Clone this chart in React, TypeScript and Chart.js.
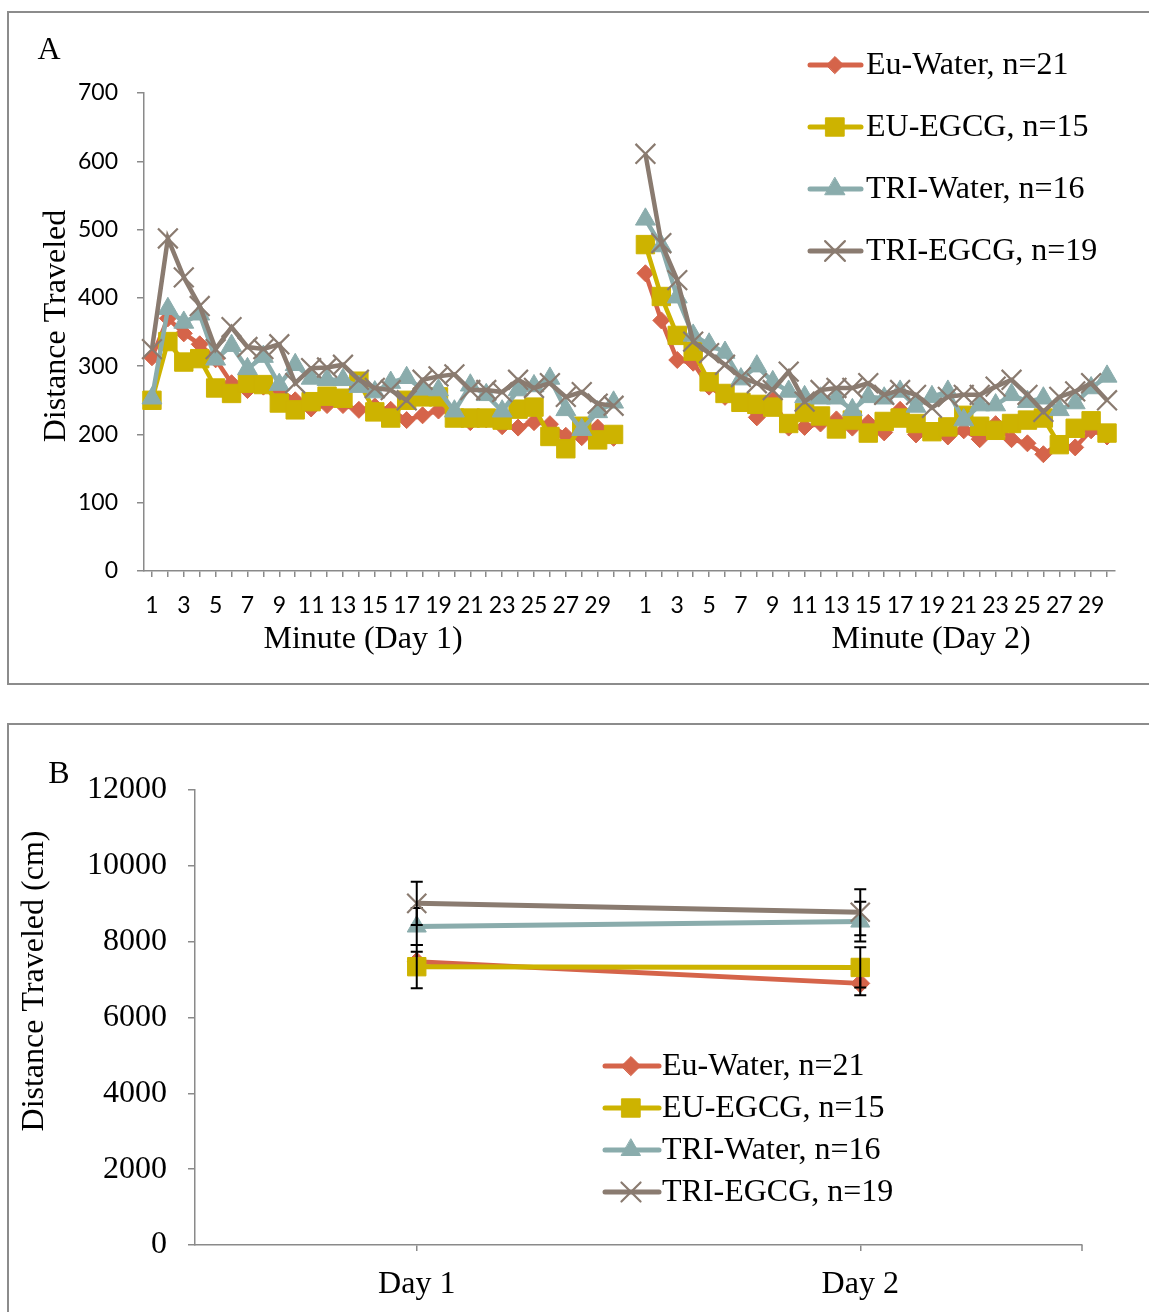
import React, { useEffect, useRef } from 'react';
import { Chart, registerables } from 'chart.js';

Chart.register(...registerables);

// ---- Panel A: distance per minute over two 30-minute sessions ----
const minutes = ['1', '2', '3', '4', '5', '6', '7', '8', '9', '10', '11', '12', '13', '14', '15',
  '16', '17', '18', '19', '20', '21', '22', '23', '24', '25', '26', '27', '28', '29', '30'];
// a blank category separates Day 1 from Day 2
const minuteAxisLabels = [...minutes, '', ...minutes];
const dayTitles = ['Minute (Day 1)', 'Minute (Day 2)'];

const euWaterDay1 = [313, 370, 348, 332, 310, 275, 265, 270, 265, 250, 238, 243, 243, 236, 241, 236, 221, 228, 235, 232, 218, 222, 212, 210, 218, 215, 198, 196, 210, 195];
const euWaterDay2 = [436, 367, 309, 305, 270, 255, 246, 225, 250, 210, 211, 216, 222, 210, 217, 203, 236, 200, 205, 197, 206, 193, 215, 193, 187, 171, 186, 181, 206, 197];
const euEgcgDay1 = [250, 336, 306, 311, 268, 260, 275, 273, 246, 236, 248, 256, 253, 278, 233, 224, 250, 255, 255, 224, 224, 224, 221, 237, 240, 197, 179, 212, 192, 200];
const euEgcgDay2 = [478, 402, 345, 322, 277, 260, 247, 244, 240, 216, 232, 227, 208, 221, 202, 219, 224, 216, 204, 211, 228, 212, 206, 216, 221, 224, 185, 209, 220, 202];
const triWaterDay1 = [253, 384, 364, 376, 310, 330, 296, 314, 273, 302, 282, 280, 280, 270, 262, 276, 283, 266, 265, 234, 272, 258, 234, 265, 271, 282, 236, 207, 233, 247];
const triWaterDay2 = [515, 476, 401, 345, 332, 320, 281, 300, 277, 263, 255, 253, 253, 236, 255, 253, 263, 241, 255, 263, 221, 243, 243, 258, 248, 253, 236, 246, 268, 285];
const triEgcgDay1 = [325, 487, 430, 388, 325, 357, 328, 325, 332, 275, 297, 298, 302, 280, 268, 265, 250, 280, 285, 288, 265, 265, 262, 280, 268, 275, 255, 262, 245, 242];
const triEgcgDay2 = [611, 480, 426, 336, 319, 302, 284, 275, 265, 292, 248, 265, 268, 268, 275, 258, 265, 258, 239, 255, 258, 258, 270, 280, 258, 233, 255, 263, 275, 250];

// ---- Panel B: total distance per day (mean and SEM) ----
const days = ['Day 1', 'Day 2'];
const euWaterTotal = [7470, 6900];
const euWaterSem = [265, 310];
const euEgcgTotal = [7340, 7320];
const euEgcgSem = [570, 530];
const triWaterTotal = [8400, 8530];
const triWaterSem = [485, 525];
const triEgcgTotal = [9010, 8775];
const triEgcgSem = [570, 605];

const seriesNames = ['Eu-Water, n=21', 'EU-EGCG, n=15', 'TRI-Water, n=16', 'TRI-EGCG, n=19'];
const yTicksA = { min: 0, max: 700, step: 100 };
const yTicksB = { min: 0, max: 12000, step: 2000 };

const SERIF = '"Liberation Serif", "Times New Roman", serif';
const SANS = 'Lato, "Open Sans", sans-serif';
const AXIS = '#8a8a8a';
const TEXT_SIZE = 32;

type Look = { color: string; style: string; rA: number; rB: number; bw: number };
const looks: Look[] = [
  { color: '#D5644A', style: 'rectRot', rA: 8.5, rB: 9.5, bw: 1 },
  { color: '#CDB300', style: 'rect', rA: 13, rB: 13, bw: 1 },
  { color: '#8AACAC', style: 'triangle', rA: 11.5, rB: 11, bw: 1 },
  { color: '#8A7B70', style: 'crossRot', rA: 14, rB: 13.5, bw: 2.2 },
];

function drawMarker(ctx: CanvasRenderingContext2D, style: string, x: number, y: number, r: number, color: string, bw: number) {
  ctx.save();
  ctx.fillStyle = color;
  ctx.strokeStyle = color;
  ctx.lineWidth = bw;
  ctx.beginPath();
  if (style === 'rectRot') {
    ctx.moveTo(x - r, y); ctx.lineTo(x, y - r); ctx.lineTo(x + r, y); ctx.lineTo(x, y + r); ctx.closePath();
    ctx.fill(); ctx.stroke();
  } else if (style === 'rect') {
    const s = r * Math.SQRT1_2;
    ctx.rect(x - s, y - s, 2 * s, 2 * s);
    ctx.fill(); ctx.stroke();
  } else if (style === 'triangle') {
    ctx.moveTo(x, y - r); ctx.lineTo(x + 0.866 * r, y + 0.5 * r); ctx.lineTo(x - 0.866 * r, y + 0.5 * r); ctx.closePath();
    ctx.fill(); ctx.stroke();
  } else {
    const d = r * Math.SQRT1_2;
    ctx.moveTo(x - d, y - d); ctx.lineTo(x + d, y + d);
    ctx.moveTo(x + d, y - d); ctx.lineTo(x - d, y + d);
    ctx.stroke();
  }
  ctx.restore();
}

function drawLegend(ctx: CanvasRenderingContext2D, x0: number, x1: number, xm: number, xt: number, ys: number[], panel: 'A' | 'B', lw: number) {
  ctx.save();
  ctx.font = `${TEXT_SIZE}px ${SERIF}`;
  ctx.textBaseline = 'middle';
  ctx.textAlign = 'left';
  seriesNames.forEach((name, i) => {
    const lk = looks[i];
    const y = ys[i];
    ctx.strokeStyle = lk.color;
    ctx.lineWidth = lw;
    ctx.lineCap = 'round';
    ctx.beginPath(); ctx.moveTo(x0, y); ctx.lineTo(x1, y); ctx.stroke();
    drawMarker(ctx, lk.style, xm, y, panel === 'A' ? lk.rA : lk.rB, lk.color, lk.bw);
    ctx.fillStyle = '#000';
    ctx.fillText(name, xt, y + 1);
  });
  ctx.restore();
}

function drawText(ctx: CanvasRenderingContext2D, text: string, x: number, y: number, rotate = false) {
  ctx.save();
  ctx.font = `${TEXT_SIZE}px ${SERIF}`;
  ctx.fillStyle = '#000';
  ctx.textAlign = 'center';
  ctx.textBaseline = 'middle';
  ctx.translate(x, y);
  if (rotate) ctx.rotate(-Math.PI / 2);
  ctx.fillText(text, 0, 0);
  ctx.restore();
}

function lineDataset(i: number, data: (number | null)[], panel: 'A' | 'B') {
  const lk = looks[i];
  const r = panel === 'A' ? lk.rA : lk.rB;
  return {
    label: seriesNames[i],
    data,
    borderColor: lk.color,
    backgroundColor: lk.color,
    borderWidth: panel === 'A' ? 4.5 : 5,
    pointStyle: lk.style,
    pointRadius: r,
    pointHoverRadius: r,
    pointBorderWidth: lk.bw,
    pointBackgroundColor: lk.color,
    pointBorderColor: lk.color,
    spanGaps: false,
    tension: 0,
    order: 4 - i,
  };
}

const borderStyle = { display: true, color: AXIS, width: 1.5 };

function PanelA() {
  const ref = useRef<HTMLCanvasElement>(null);
  useEffect(() => {
    const join = (a: number[], b: number[]) => [...a, null, ...b];
    const overlay = {
      id: 'panelAText',
      afterDraw(chart: any) {
        const ctx = chart.ctx as CanvasRenderingContext2D;
        drawText(ctx, 'A', 49, 51);
        drawText(ctx, 'Distance Traveled', 57, 326, true);
        drawText(ctx, dayTitles[0], 363, 640);
        drawText(ctx, dayTitles[1], 931, 640);
        drawLegend(ctx, 810, 861, 835, 866, [65, 127, 189, 251], 'A', 5);
      },
    };
    const chart = new Chart(ref.current!, {
      type: 'line',
      data: {
        labels: minuteAxisLabels,
        datasets: [
          lineDataset(0, join(euWaterDay1, euWaterDay2), 'A'),
          lineDataset(1, join(euEgcgDay1, euEgcgDay2), 'A'),
          lineDataset(2, join(triWaterDay1, triWaterDay2), 'A'),
          lineDataset(3, join(triEgcgDay1, triEgcgDay2), 'A'),
        ] as any,
      },
      options: {
        animation: false,
        responsive: false,
        maintainAspectRatio: false,
        layout: { padding: { top: 93, right: 34, left: 0, bottom: 0 } },
        plugins: { legend: { display: false }, tooltip: { enabled: false } },
        scales: {
          x: {
            type: 'category',
            offset: true,
            border: borderStyle,
            grid: { display: true, drawOnChartArea: false, color: AXIS, lineWidth: 1.5, tickLength: 6, offset: false },
            ticks: {
              autoSkip: false, maxRotation: 0, minRotation: 0, padding: 15, color: '#000',
              font: { family: SANS, size: 23 },
              callback: (_v: any, i: number) => {
                const l = minuteAxisLabels[i];
                return l !== '' && Number(l) % 2 === 1 ? l : '';
              },
            },
            afterFit: (s: any) => { s.height = 129; },
          },
          y: {
            min: yTicksA.min, max: yTicksA.max,
            border: borderStyle,
            grid: { display: true, drawOnChartArea: false, color: AXIS, lineWidth: 1.5, tickLength: 7 },
            ticks: { stepSize: yTicksA.step, padding: 19, color: '#000', font: { family: SANS, size: 23 } },
            afterFit: (s: any) => { s.width = 144; },
          },
        },
      } as any,
      plugins: [overlay],
    });
    return () => chart.destroy();
  }, []);
  return <canvas ref={ref} width={1149} height={700} style={{ position: 'absolute', left: 0, top: 0, width: 1149, height: 700 }} />;
}

function PanelB() {
  const ref = useRef<HTMLCanvasElement>(null);
  useEffect(() => {
    const sems = [euWaterSem, euEgcgSem, triWaterSem, triEgcgSem];
    const errorBars = {
      id: 'semBars',
      afterDatasetDraw(chart: any, args: any) {
        const ctx = chart.ctx as CanvasRenderingContext2D;
        const ds = chart.data.datasets[args.index];
        const sem = sems[args.index];
        const yScale = chart.scales.y;
        ctx.save();
        ctx.strokeStyle = '#000';
        ctx.lineWidth = 2;
        args.meta.data.forEach((pt: any, j: number) => {
          const v = ds.data[j] as number;
          const yt = yScale.getPixelForValue(v + sem[j]);
          const yb = yScale.getPixelForValue(v - sem[j]);
          ctx.beginPath();
          ctx.moveTo(pt.x, yt); ctx.lineTo(pt.x, yb);
          ctx.moveTo(pt.x - 6, yt); ctx.lineTo(pt.x + 6, yt);
          ctx.moveTo(pt.x - 6, yb); ctx.lineTo(pt.x + 6, yb);
          ctx.stroke();
        });
        ctx.restore();
      },
    };
    const overlay = {
      id: 'panelBText',
      afterDraw(chart: any) {
        const ctx = chart.ctx as CanvasRenderingContext2D;
        const a = chart.chartArea;
        // closing tick at the right end of the category axis
        ctx.save();
        ctx.strokeStyle = AXIS; ctx.lineWidth = 1.5;
        ctx.beginPath(); ctx.moveTo(a.right, a.bottom); ctx.lineTo(a.right, a.bottom + 6); ctx.stroke();
        ctx.restore();
        drawText(ctx, 'B', 59, 75);
        drawText(ctx, 'Distance Traveled (cm)', 35, 281, true);
        drawLegend(ctx, 605, 659, 631, 662, [366, 408, 450, 492], 'B', 5);
      },
    };
    const chart = new Chart(ref.current!, {
      type: 'line',
      data: {
        labels: days,
        datasets: [
          lineDataset(0, euWaterTotal, 'B'),
          lineDataset(1, euEgcgTotal, 'B'),
          lineDataset(2, triWaterTotal, 'B'),
          lineDataset(3, triEgcgTotal, 'B'),
        ] as any,
      },
      options: {
        animation: false,
        responsive: false,
        maintainAspectRatio: false,
        layout: { padding: { top: 90, right: 67, left: 0, bottom: 0 } },
        plugins: { legend: { display: false }, tooltip: { enabled: false } },
        scales: {
          x: {
            type: 'category',
            offset: true,
            border: borderStyle,
            grid: { display: true, drawOnChartArea: false, color: AXIS, lineWidth: 1.5, tickLength: 6, offset: false },
            ticks: { autoSkip: false, maxRotation: 0, padding: 14, color: '#000', font: { family: SERIF, size: TEXT_SIZE } },
            afterFit: (s: any) => { s.height = 67; },
          },
          y: {
            min: yTicksB.min, max: yTicksB.max,
            border: borderStyle,
            grid: { display: true, drawOnChartArea: false, color: AXIS, lineWidth: 1.5, tickLength: 7 },
            ticks: {
              stepSize: yTicksB.step, padding: 21, color: '#000', font: { family: SERIF, size: TEXT_SIZE },
              callback: (v: any) => String(v),
            },
            afterFit: (s: any) => { s.width = 195; },
          },
        },
      } as any,
      plugins: [errorBars, overlay],
    });
    return () => chart.destroy();
  }, []);
  return <canvas ref={ref} width={1149} height={612} style={{ position: 'absolute', left: 0, top: 700, width: 1149, height: 612 }} />;
}

export default function App() {
  const frame: React.CSSProperties = {
    position: 'absolute', left: 7, width: 1170, border: '2px solid #8c8c8c', boxSizing: 'border-box', pointerEvents: 'none',
  };
  return (
    <div style={{ position: 'fixed', left: 0, top: 0, width: 1149, height: 1312, overflow: 'hidden', background: '#fff' }}>
      <PanelA />
      <PanelB />
      <div style={{ ...frame, top: 11, height: 674 }} />
      <div style={{ ...frame, top: 723, height: 700 }} />
    </div>
  );
}
